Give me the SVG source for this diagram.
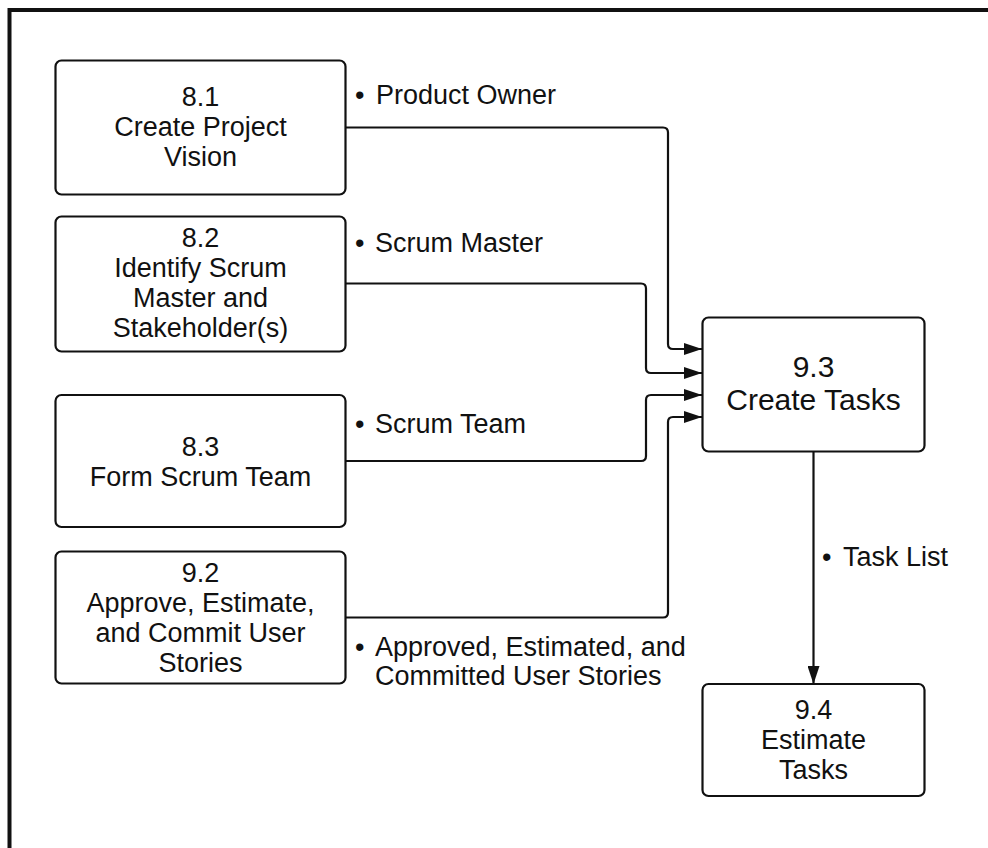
<svg xmlns="http://www.w3.org/2000/svg" width="988" height="848" viewBox="0 0 988 848">
<style>
.box{fill:#fff;stroke:#111;stroke-width:2.2}
.t{font-family:"Liberation Sans",Arial,sans-serif;font-size:27px;fill:#111;text-anchor:middle}
.big{font-size:30px}
.l{font-family:"Liberation Sans",Arial,sans-serif;font-size:27px;fill:#111}
.c{fill:none;stroke:#111;stroke-width:2.2}
</style>
<defs>
<marker id="arr" markerWidth="18" markerHeight="12" refX="18" refY="6" orient="auto" markerUnits="userSpaceOnUse">
<path d="M0,0 L18,6 L0,12 z" fill="#111"/>
</marker>
</defs>
<rect width="988" height="848" fill="#fff"/>
<path d="M9.5,848 V10 H988" fill="none" stroke="#111" stroke-width="4"/>

<g id="connectors">
<path class="c" d="M345,127.5 H663 Q668,127.5 668,132.5 V344 Q668,349 673,349 H702" marker-end="url(#arr)"/>
<path class="c" d="M345,283.5 H641 Q646,283.5 646,288.5 V368 Q646,373 651,373 H702" marker-end="url(#arr)"/>
<path class="c" d="M345,461 H641 Q646,461 646,456 V400 Q646,395 651,395 H702" marker-end="url(#arr)"/>
<path class="c" d="M346,617.5 H663 Q668,617.5 668,612.5 V422 Q668,417 673,417 H702" marker-end="url(#arr)"/>
<path class="c" d="M813.5,451 V684" marker-end="url(#arr)"/>
<text class="l"><tspan x="355" y="104">•</tspan><tspan x="376" y="104">Product Owner</tspan></text>
<text class="l"><tspan x="355" y="252">•</tspan><tspan x="375" y="252">Scrum Master</tspan></text>
<text class="l"><tspan x="355" y="433">•</tspan><tspan x="375" y="433">Scrum Team</tspan></text>
<text class="l"><tspan x="355" y="656">•</tspan><tspan x="375" y="656">Approved, Estimated, and</tspan><tspan x="375" y="685">Committed User Stories</tspan></text>
<text class="l"><tspan x="822" y="566">•</tspan><tspan x="843" y="566">Task List</tspan></text>
</g>

<g id="n81">
<rect class="box" x="55.5" y="60.5" width="290" height="134" rx="6"/>
<text class="t"><tspan x="200.5" y="106">8.1</tspan><tspan x="200.5" y="136">Create Project</tspan><tspan x="200.5" y="166">Vision</tspan></text>
</g>
<g id="n82">
<rect class="box" x="55.5" y="216.5" width="290" height="135" rx="6"/>
<text class="t"><tspan x="200.5" y="247">8.2</tspan><tspan x="200.5" y="277">Identify Scrum</tspan><tspan x="200.5" y="307">Master and</tspan><tspan x="200.5" y="337">Stakeholder(s)</tspan></text>
</g>
<g id="n83">
<rect class="box" x="55.5" y="395" width="290" height="132" rx="6"/>
<text class="t"><tspan x="200.5" y="456">8.3</tspan><tspan x="200.5" y="486">Form Scrum Team</tspan></text>
</g>
<g id="n92">
<rect class="box" x="55.5" y="551.5" width="290" height="132" rx="6"/>
<text class="t"><tspan x="200.5" y="582">9.2</tspan><tspan x="200.5" y="612">Approve, Estimate,</tspan><tspan x="200.5" y="642">and Commit User</tspan><tspan x="200.5" y="672">Stories</tspan></text>
</g>
<g id="n93">
<rect class="box" x="702.5" y="317.5" width="222" height="134" rx="6"/>
<text class="t big"><tspan x="813.5" y="377">9.3</tspan><tspan x="813.5" y="410">Create Tasks</tspan></text>
</g>
<g id="n94">
<rect class="box" x="702.5" y="684" width="222" height="112" rx="6"/>
<text class="t"><tspan x="813.5" y="719">9.4</tspan><tspan x="813.5" y="749">Estimate</tspan><tspan x="813.5" y="779">Tasks</tspan></text>
</g>
</svg>
